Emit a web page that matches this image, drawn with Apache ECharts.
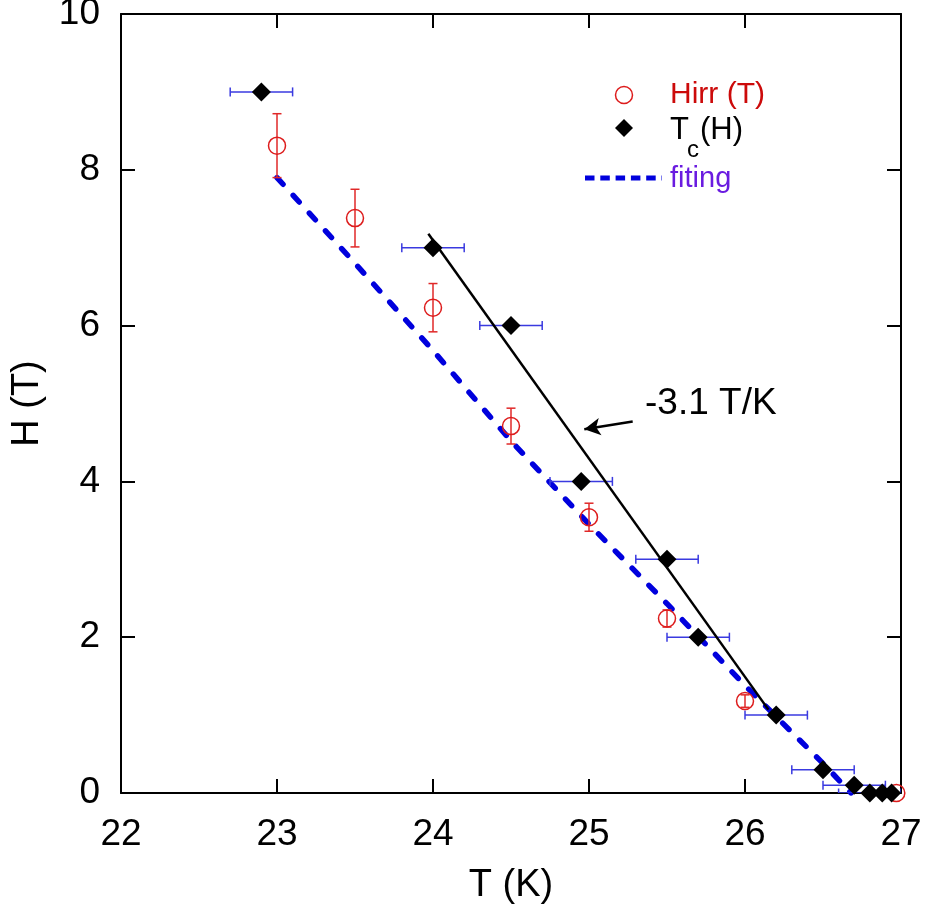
<!DOCTYPE html>
<html><head><meta charset="utf-8">
<script src="https://cdn.jsdelivr.net/npm/echarts@6/dist/echarts.min.js"></script>
<style>html,body{margin:0;padding:0;background:#fff}#c{width:925px;height:909px}</style>
</head><body><div id="c"></div>
<script>
// Tc(H) points (black diamonds) with horizontal error bars
const tcT    = [22.9, 24.0, 24.5, 24.95, 25.5, 25.7, 26.2, 26.5, 26.7, 26.8, 26.88, 26.94];
const tcH    = [9.0, 7.0, 6.0, 4.0, 3.0, 2.0, 1.0, 0.3, 0.1, 0.0, 0.0, 0.0];
const tcTErr = [0.2, 0.2, 0.2, 0.2, 0.2, 0.2, 0.2, 0.2, 0.2, 0.2, 0, 0];
// Hirr(T) points (red open circles) with vertical error bars
const irrT    = [23.0, 23.5, 24.0, 24.5, 25.0, 25.5, 26.0, 26.97];
const irrH    = [8.31, 7.38, 6.23, 4.71, 3.54, 2.24, 1.18, 0.0];
const irrHErr = [0.41, 0.37, 0.31, 0.23, 0.18, 0.11, 0.08, 0];
// fitting curve (blue dashed)
const fitT = [23.0, 23.5, 24.0, 24.5, 25.0, 25.5, 26.0, 26.5, 26.68];
const fitH = [7.9, 6.8, 5.68, 4.52, 3.45, 2.43, 1.38, 0.38, 0.0];
// slope line (black solid)
const slopeT = [23.97, 26.15];
const slopeH = [7.18, 1.07];
// annotation arrow
const arrowFrom = [25.28, 4.77];
const arrowTo   = [24.97, 4.67];
const annotationText = '-3.1 T/K';
// axes
const xMin = 22, xMax = 27, xStep = 1;
const yMin = 0, yMax = 10, yStep = 2;
const xTitle = 'T (K)', yTitle = 'H (T)';

const FONT = '"Liberation Sans", Arial, Helvetica, sans-serif';
const chart = echarts.init(document.getElementById('c'), null, {renderer: 'canvas'});

const zip = (a, b, c) => a.map((v, i) => c ? [v, b[i], c[i]] : [v, b[i]]);

function hErr(params, api) {
  const x = api.value(0), y = api.value(1), e = api.value(2);
  if (!e) return null;
  const a = api.coord([x - e, y]), b = api.coord([x + e, y]);
  const c = 4.5, st = {stroke: '#3a3ae0', lineWidth: 1.5};
  return {type: 'group', children: [
    {type: 'line', shape: {x1: a[0], y1: a[1], x2: b[0], y2: b[1]}, style: st},
    {type: 'line', shape: {x1: a[0], y1: a[1] - c, x2: a[0], y2: a[1] + c}, style: st},
    {type: 'line', shape: {x1: b[0], y1: b[1] - c, x2: b[0], y2: b[1] + c}, style: st}
  ]};
}
function vErr(params, api) {
  const x = api.value(0), y = api.value(1), e = api.value(2);
  if (!e) return null;
  const a = api.coord([x, y + e]), b = api.coord([x, y - e]);
  const c = 4.5, st = {stroke: '#e02828', lineWidth: 1.5};
  return {type: 'group', children: [
    {type: 'line', shape: {x1: a[0], y1: a[1], x2: b[0], y2: b[1]}, style: st},
    {type: 'line', shape: {x1: a[0] - c, y1: a[1], x2: a[0] + c, y2: a[1]}, style: st},
    {type: 'line', shape: {x1: b[0] - c, y1: b[1], x2: b[0] + c, y2: b[1]}, style: st}
  ]};
}

const axisCommon = {
  axisLine: {show: true, onZero: false, lineStyle: {color: '#000', width: 2}},
  axisTick: {show: true, inside: true, length: 14, lineStyle: {color: '#000', width: 2}},
  splitLine: {show: false}
};

chart.setOption({
  animation: false,
  backgroundColor: '#fff',
  grid: {left: 121, right: 24, top: 14, bottom: 116, containLabel: false, outerBoundsMode: 'none'},
  xAxis: [
    Object.assign({type: 'value', min: xMin, max: xMax, interval: xStep, position: 'bottom',
      name: xTitle, nameLocation: 'middle', nameGap: 74,
      nameTextStyle: {fontFamily: FONT, fontSize: 38, color: '#000'},
      axisLabel: {fontFamily: FONT, fontSize: 37, color: '#000', margin: 23}}, axisCommon),
    Object.assign({type: 'value', min: xMin, max: xMax, interval: xStep, position: 'top',
      axisLabel: {show: false}}, axisCommon)
  ],
  yAxis: [
    Object.assign({type: 'value', min: yMin, max: yMax, interval: yStep, position: 'left',
      name: yTitle, nameLocation: 'middle', nameGap: 74, nameRotate: 90,
      nameTextStyle: {fontFamily: FONT, fontSize: 38, color: '#000'},
      axisLabel: {fontFamily: FONT, fontSize: 37, color: '#000', margin: 21}}, axisCommon),
    Object.assign({type: 'value', min: yMin, max: yMax, interval: yStep, position: 'right',
      axisLabel: {show: false}}, axisCommon)
  ],
  series: [
    {type: 'line', data: zip(fitT, fitH), showSymbol: false, symbol: 'none', z: 2,
      lineStyle: {color: '#0000dd', width: 5.5, type: [9, 15], cap: 'round'}},
    {type: 'custom', renderItem: hErr, data: zip(tcT, tcH, tcTErr), z: 3, clip: true},
    {type: 'custom', renderItem: vErr, data: zip(irrT, irrH, irrHErr), z: 3, clip: true},
    {type: 'scatter', data: zip(irrT, irrH), symbol: 'circle', symbolSize: 17, z: 4,
      itemStyle: {color: 'rgba(0,0,0,0)', borderColor: '#dd1c1c', borderWidth: 1.5, opacity: 1}},
    {type: 'scatter', data: zip(tcT, tcH), symbol: 'diamond', symbolSize: 19, z: 5,
      itemStyle: {color: '#000', opacity: 1}},
    {type: 'line', data: zip(slopeT, slopeH), showSymbol: false, symbol: 'none', z: 6,
      lineStyle: {color: '#000', width: 2.5}},
    {type: 'line', data: [], z: 7,
      markLine: {silent: true, symbol: ['none', 'arrow'], symbolSize: [13, 16],
        label: {show: false},
        lineStyle: {color: '#000', width: 2.5, type: 'solid'},
        data: [[{coord: arrowFrom}, {coord: arrowTo}]]}}
  ],
  graphic: [
    {type: 'text', left: 645, top: 385, style: {text: annotationText, font: '37px ' + FONT, fill: '#000'}},
    // legend
    {type: 'circle', shape: {cx: 624, cy: 95, r: 8.5}, style: {fill: 'none', stroke: '#dd1c1c', lineWidth: 1.5}},
    {type: 'text', left: 670, top: 80, style: {text: 'Hirr (T)', font: '30px ' + FONT, fill: '#cc0a0a'}},
    {type: 'polygon', shape: {points: [[624, 119], [633, 128], [624, 137], [615, 128]]}, style: {fill: '#000'}},
    {type: 'text', left: 670, top: 115, style: {text: 'T', font: '31px ' + FONT, fill: '#000'}},
    {type: 'text', left: 687, top: 138, style: {text: 'c', font: '24px ' + FONT, fill: '#000'}},
    {type: 'text', left: 700, top: 115, style: {text: '(H)', font: '31px ' + FONT, fill: '#000'}},
    {type: 'line', shape: {x1: 585, y1: 178, x2: 662, y2: 178}, style: {stroke: '#0000dd', lineWidth: 5, lineDash: [9.5, 5.8]}},
    {type: 'text', left: 670, top: 164, style: {text: 'fiting', font: '29px ' + FONT, fill: '#6a1be0'}}
  ]
});
</script></body></html>
